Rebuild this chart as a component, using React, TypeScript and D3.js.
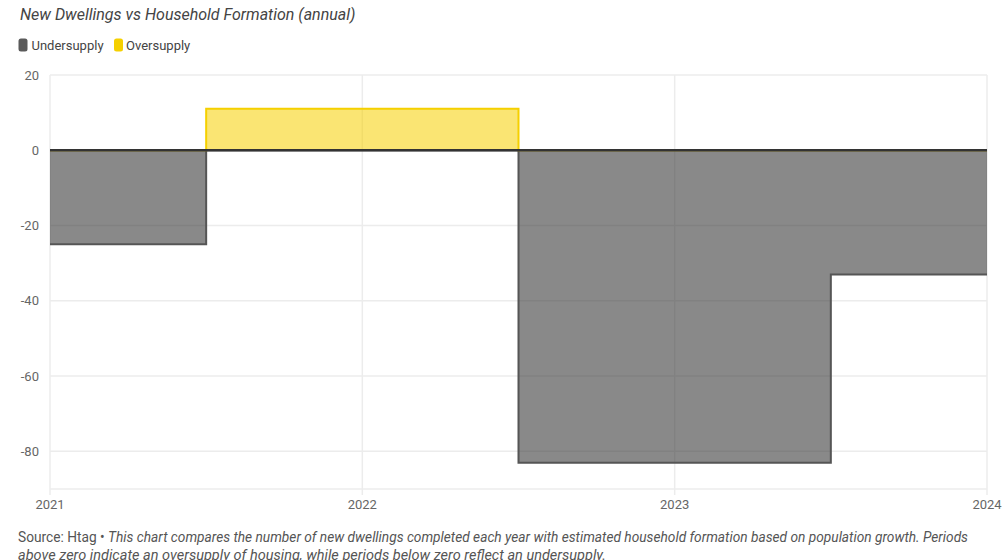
import React from "react";
import * as d3 from "d3";

const years = [2021, 2022, 2023, 2024];
const balance = [-25, 11, -83, -33];
const yTicks = [20, 0, -20, -40, -60, -80];
const xTicks = [2021, 2022, 2023, 2024];
const legendLabels = ["Undersupply", "Oversupply"];

const W = 1003;
const H = 560;
const M = { left: 50, right: 16, top: 75, bottom: 71 };

export default function App() {
  const x = d3.scaleLinear().domain([2021, 2024]).range([M.left, W - M.right]);
  const y = d3.scaleLinear().domain([-90, 20]).range([H - M.bottom, M.top]);
  const data = years.map((yr, i) => ({ yr, v: balance[i] }));

  const negArea = d3
    .area<{ yr: number; v: number }>()
    .x((d) => x(d.yr))
    .y0(y(0))
    .y1((d) => y(Math.min(d.v, 0)))
    .curve(d3.curveStep);
  const posArea = d3
    .area<{ yr: number; v: number }>()
    .x((d) => x(d.yr))
    .y0(y(0))
    .y1((d) => y(Math.max(d.v, 0)))
    .curve(d3.curveStep);
  const negLine = d3
    .line<{ yr: number; v: number }>()
    .x((d) => x(d.yr))
    .y((d) => y(Math.min(d.v, 0)))
    .curve(d3.curveStep);
  const posLine = d3
    .line<{ yr: number; v: number }>()
    .x((d) => x(d.yr))
    .y((d) => y(Math.max(d.v, 0)))
    .curve(d3.curveStep);

  const font = "Roboto, 'Noto Sans', sans-serif";
  const [x0, x1] = x.range();
  const [yb, yt] = y.range();

  return (
    <svg
      width={W}
      height={H}
      style={{ position: "absolute", left: 0, top: 0, background: "#fff" }}
      fontFamily={font}
    >
      <text x={20} y={20} fontSize={16} fontStyle="italic" fill="#444">
        New Dwellings vs Household Formation (annual)
      </text>
      {/* legend */}
      <rect x={18.5} y={38.5} width={9} height={13} rx={2.5} fill="#5a5a5a" />
      <text x={31.5} y={50} fontSize={13} fill="#444">
        {legendLabels[0]}
      </text>
      <rect x={114} y={38.5} width={9} height={13} rx={2.5} fill="#f5d000" />
      <text x={126} y={50} fontSize={13} fill="#444">
        {legendLabels[1]}
      </text>

      {/* grid */}
      {yTicks.map((t) => (
        <line key={"gy" + t} x1={x0} x2={x1} y1={y(t)} y2={y(t)} stroke="#ececec" strokeWidth={1.5} />
      ))}
      <line x1={x0} x2={x1} y1={yb} y2={yb} stroke="#ececec" strokeWidth={1.5} />
      {xTicks.map((t) => (
        <line key={"gx" + t} x1={x(t)} x2={x(t)} y1={yt} y2={yb + 6} stroke="#ececec" strokeWidth={1.5} />
      ))}

      {/* areas */}
      <path d={negArea(data) || ""} fill="#3a3a3a" fillOpacity={0.6} />
      <path d={posArea(data) || ""} fill="#f5d000" fillOpacity={0.55} />
      <path d={negLine(data) || ""} fill="none" stroke="#555" strokeWidth={2} />
      <path d={posLine(data) || ""} fill="none" stroke="#f5d000" strokeWidth={2} />

      {/* zero line */}
      <line x1={x0} x2={x1} y1={y(0)} y2={y(0)} stroke="#333" strokeWidth={2.5} />

      {/* y labels */}
      {yTicks.map((t) => (
        <text key={"yl" + t} x={39} y={y(t) + 4.5} fontSize={13} fill="#666" textAnchor="end">
          {t}
        </text>
      ))}
      {/* x labels */}
      {xTicks.map((t) => (
        <text key={"xl" + t} x={x(t)} y={509} fontSize={13} fill="#666" textAnchor="middle">
          {t}
        </text>
      ))}

      {/* footnote */}
      <text x={18} y={542} fontSize={14} fill="#555" textLength={950} lengthAdjust="spacingAndGlyphs">
        <tspan>Source: Htag • </tspan>
        <tspan fontStyle="italic">
          This chart compares the number of new dwellings completed each year with estimated household formation based on population growth. Periods
        </tspan>
      </text>
      <text x={18} y={560} fontSize={14} fill="#555" fontStyle="italic" textLength={588} lengthAdjust="spacingAndGlyphs">
        above zero indicate an oversupply of housing, while periods below zero reflect an undersupply.
      </text>
    </svg>
  );
}
